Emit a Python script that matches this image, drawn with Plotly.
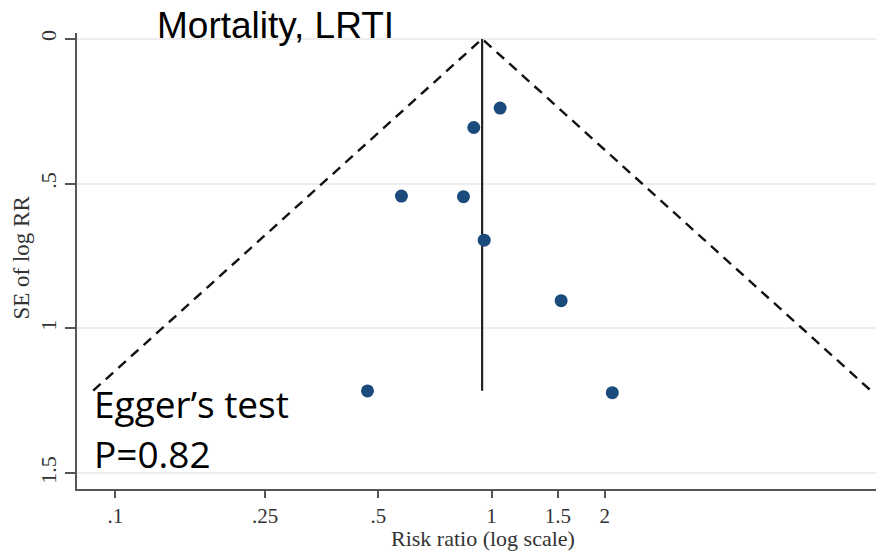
import plotly.graph_objects as go

# Study estimates
study_rr = [1.054, 0.897, 0.576, 0.842, 0.956, 1.531, 0.468, 2.094]
study_se = [0.239, 0.306, 0.543, 0.545, 0.695, 0.904, 1.216, 1.222]

# Funnel (pseudo 95% limits) and pooled estimate
funnel_x = [0.0873, 0.944, 10.2]
funnel_y = [1.215, 0.0, 1.215]
pooled_x = [0.944, 0.944]
pooled_y = [0.0, 1.215]

x_tickvals = [0.1, 0.25, 0.5, 1, 1.5, 2]
x_ticktext = [".1", ".25", ".5", "1", "1.5", "2"]
y_tickvals = [0, 0.5, 1, 1.5]
y_ticktext = ["0", ".5", "1", "1.5"]

serif = "Liberation Serif, Times New Roman, serif"

fig = go.Figure()
fig.add_trace(go.Scatter(x=funnel_x, y=funnel_y, mode="lines",
                         line=dict(color="#111111", width=2.4, dash="10px,7px"),
                         hoverinfo="skip", showlegend=False))
fig.add_trace(go.Scatter(x=pooled_x, y=pooled_y, mode="lines",
                         line=dict(color="#222222", width=2.2),
                         hoverinfo="skip", showlegend=False))
fig.add_trace(go.Scatter(x=study_rr, y=study_se, mode="markers",
                         marker=dict(color="#1b4a7c", size=13),
                         showlegend=False))

PL, PW, PB, PH = 77.3, 798.7, 489.0, 455.7

fig.update_layout(
    width=876, height=552,
    margin=dict(l=77, r=0, t=33, b=63),
    paper_bgcolor="white", plot_bgcolor="white",
    xaxis=dict(type="log", range=[-1.102, 1.022],
               tickvals=x_tickvals, ticktext=x_ticktext,
               showgrid=False, zeroline=False,
               showline=True, linecolor="#555555", linewidth=2,
               ticks="outside", ticklen=7, tickwidth=1.5, tickcolor="#555555",
               tickfont=dict(family=serif, size=21, color="#333333")),
    yaxis=dict(range=[1.5546, -0.0204],
               tickvals=y_tickvals, ticktext=y_ticktext, tickangle=-90,
               showgrid=True, gridcolor="#eeeeee", gridwidth=1.5, zeroline=False,
               showline=True, linecolor="#555555", linewidth=2,
               ticks="outside", ticklen=10, tickwidth=1.5, tickcolor="#555555",
               tickfont=dict(family=serif, size=22, color="#333333")),
    annotations=[
        dict(text="Risk ratio (log scale)", xref="paper", yref="paper",
             x=(483 - PL) / PW, y=(PB - 538) / PH,
             xanchor="center", yanchor="middle", showarrow=False,
             font=dict(family=serif, size=22, color="#333333")),
        dict(text="SE of log RR", xref="paper", yref="paper", textangle=-90,
             x=(22 - PL) / PW, y=(PB - 258) / PH,
             xanchor="center", yanchor="middle", showarrow=False,
             font=dict(family=serif, size=23, color="#333333")),
        dict(text="Mortality, LRTI", xref="paper", yref="paper",
             x=(155 - PL) / PW, y=(PB - 26) / PH,
             xanchor="left", yanchor="middle", showarrow=False,
             font=dict(family="Liberation Sans, Arial", size=37, color="black")),
        dict(text="Egger’s test", xref="paper", yref="paper",
             x=(92 - PL) / PW, y=(PB - 404) / PH,
             xanchor="left", yanchor="middle", showarrow=False,
             font=dict(family="Open Sans", size=37, color="black")),
        dict(text="P=0.82", xref="paper", yref="paper",
             x=(92 - PL) / PW, y=(PB - 454) / PH,
             xanchor="left", yanchor="middle", showarrow=False,
             font=dict(family="Open Sans", size=37, color="black")),
    ],
)

fig.write_html("out.html")
